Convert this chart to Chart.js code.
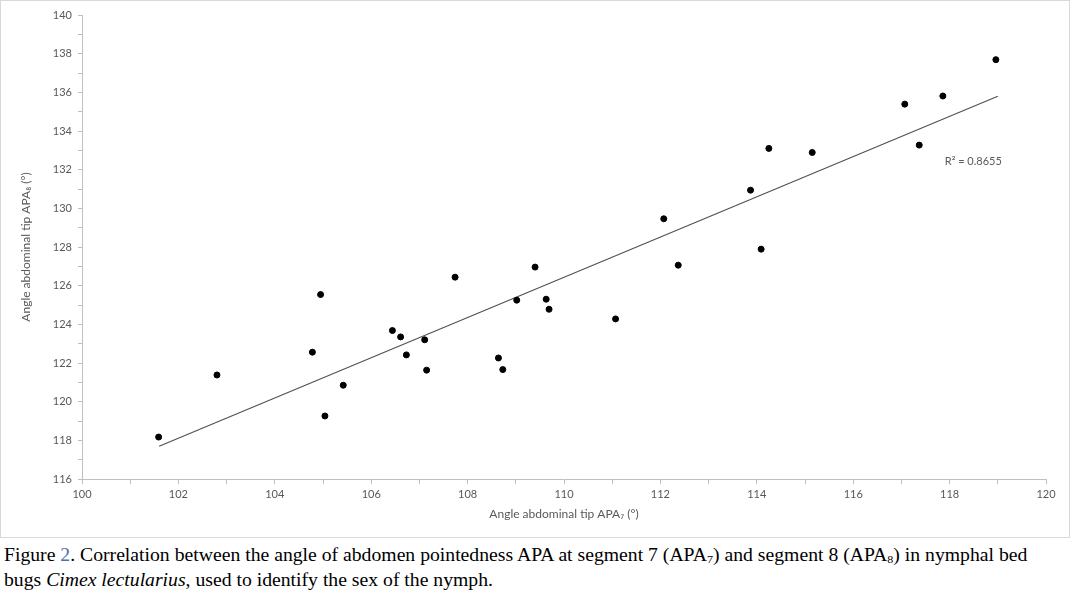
<!DOCTYPE html>
<html>
<head>
<meta charset="utf-8">
<script src="https://cdn.jsdelivr.net/npm/chart.js"></script>
<style>
  body { margin: 0; background: #fff; }
  #box { position: absolute; left: 0; top: 0; width: 1068px; height: 536px; border: 1px solid #d9d9d9; }
  #caption { position: absolute; left: 4px; top: 545px; width: 980px; font-family: "Liberation Serif", serif; font-size: 18px; line-height: 21px; color: #000;
             transform: scaleX(1.094); transform-origin: 0 0; white-space: nowrap; }
  #caption .n { color: #4a6fb5; }
  #caption sub { font-size: 11px; vertical-align: -2px; }
</style>
</head>
<body>
<div id="box"><canvas id="Chart" width="1068" height="536"></canvas></div>
<div id="caption">Figure <span class="n">2</span>. Correlation between the angle of abdomen pointedness APA at segment 7 (APA<sub>7</sub>) and segment 8 (APA<sub>8</sub>) in nymphal bed<br>bugs <i>Cimex lectularius</i>, used to identify the sex of the nymph.</div>
<script>
const apa7 = [101.59,102.80,104.78,104.95,105.04,105.42,106.44,106.61,106.73,107.11,107.15,107.74,108.64,108.73,109.02,109.40,109.63,109.69,111.07,112.07,112.37,113.87,114.09,114.25,115.15,117.07,117.37,117.86,118.96];
const apa8 = [118.17,121.38,122.56,125.54,119.26,120.85,123.68,123.35,122.42,123.20,121.63,126.44,122.26,121.66,125.25,126.96,125.30,124.78,124.28,129.46,127.06,130.94,127.89,133.10,132.89,135.39,133.27,135.81,137.69];
const trendX = [101.6, 119.0];
const trendY = [117.7, 135.8];
const r2Label = "R\u00b2 = 0.8655";
const r2Pos = [117.9, 132.45];

const grey = "#595959";
const axisGrey = "#bfbfbf";

const r2Plugin = {
  id: "r2",
  afterDatasetsDraw(chart) {
    const ctx = chart.ctx;
    const x = chart.scales.x.getPixelForValue(r2Pos[0]);
    const y = chart.scales.y.getPixelForValue(r2Pos[1]);
    ctx.save();
    ctx.font = "11px Lato";
    ctx.fillStyle = grey;
    ctx.textBaseline = "middle";
    ctx.fillText(r2Label, x, y);
    ctx.restore();
  }
};

new Chart("Chart", {
  type: "scatter",
  data: {
    datasets: [{
      data: apa7.map((v, i) => ({x: v, y: apa8[i]})),
      backgroundColor: "#000",
      borderColor: "#000",
      pointRadius: 3,
      pointHoverRadius: 3
    }, {
      type: "line",
      data: trendX.map((v, i) => ({x: v, y: trendY[i]})),
      borderColor: "#505050",
      borderWidth: 1.1,
      pointRadius: 0,
      fill: false
    }]
  },
  options: {
    responsive: false,
    animation: false,
    layout: {padding: {left: 0, right: 23, top: 14, bottom: 0}},
    plugins: {legend: {display: false}, tooltip: {enabled: false}},
    scales: {
      x: {
        type: "linear",
        min: 100, max: 120,
        afterFit(s) { s.height = 58; },
        ticks: {
          stepSize: 1, autoSkip: false, maxRotation: 0, padding: 4,
          color: grey, font: {family: "Lato", size: 11},
          callback: v => v % 2 === 0 ? v : ""
        },
        grid: {drawOnChartArea: false, drawTicks: true, tickLength: 5, color: axisGrey},
        border: {color: axisGrey},
        title: {display: true, text: "Angle abdominal tip APA\u2087 (\u00b0)", color: grey,
                font: {family: "Lato", size: 12}, padding: {top: 6, bottom: 16}}
      },
      y: {
        min: 116, max: 140,
        afterFit(s) { s.width = 81; },
        ticks: {
          stepSize: 1, autoSkip: false, padding: 6,
          color: grey, font: {family: "Lato", size: 11},
          callback: v => v % 2 === 0 ? v : ""
        },
        grid: {drawOnChartArea: false, drawTicks: true, tickLength: 4, color: axisGrey},
        border: {color: axisGrey},
        title: {display: true, text: "Angle abdominal tip APA\u2088 (\u00b0)", color: grey,
                font: {family: "Lato", size: 12}, padding: {top: 18, bottom: 0}}
      }
    }
  },
  plugins: [r2Plugin]
});
</script>
</body>
</html>
